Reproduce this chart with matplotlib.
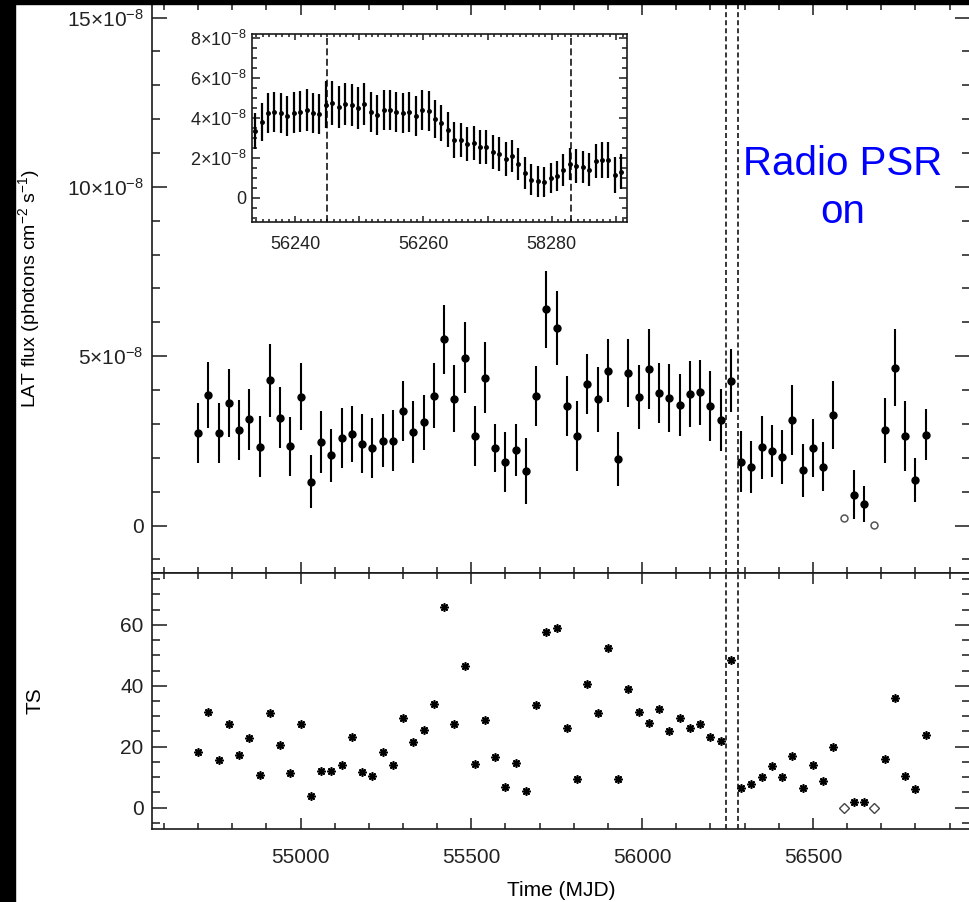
import matplotlib
matplotlib.use("Agg")
import matplotlib.pyplot as plt
from matplotlib.ticker import MultipleLocator, FixedLocator, FixedFormatter
from matplotlib.patches import Rectangle

plt.rcParams["font.family"] = ["Liberation Sans", "DejaVu Sans"]
plt.rcParams["mathtext.fontset"] = "custom"
plt.rcParams["mathtext.rm"] = "Liberation Sans"
plt.rcParams["mathtext.it"] = "Liberation Sans:italic"
plt.rcParams["mathtext.bf"] = "Liberation Sans:bold"
plt.rcParams["lines.scale_dashes"] = False

# 30-day bins (MJD), flux in units of 1e-8 photons cm^-2 s^-1
mjd = [54700, 54730, 54760, 54790, 54820, 54850, 54880, 54910, 54940, 54970,
       55000, 55030, 55060, 55090, 55120, 55150, 55180, 55210, 55240, 55270,
       55300, 55330, 55360, 55390, 55420, 55450, 55480, 55510, 55540, 55570,
       55600, 55630, 55660, 55690, 55720, 55750, 55780, 55810, 55840, 55870,
       55900, 55930, 55960, 55990, 56020, 56050, 56080, 56110, 56140, 56170,
       56200, 56230, 56260, 56290, 56320, 56350, 56380, 56410, 56440, 56470,
       56500, 56530, 56560, 56590, 56620, 56650, 56680, 56710, 56740, 56770,
       56800, 56830]
flux = [2.73, 3.86, 2.73, 3.63, 2.82, 3.14, 2.33, 4.29, 3.19, 2.34,
        3.81, 1.29, 2.46, 2.08, 2.59, 2.70, 2.42, 2.29, 2.51, 2.51,
        3.39, 2.76, 3.05, 3.83, 5.50, 3.75, 4.95, 2.65, 4.37, 2.29,
        1.87, 2.24, 1.62, 3.83, 6.38, 5.84, 3.54, 2.65, 4.17, 3.73,
        4.57, 1.97, 4.50, 3.79, 4.61, 3.91, 3.77, 3.56, 3.89, 3.94,
        3.53, 3.11, 4.28, 1.89, 1.72, 2.31, 2.19, 2.02, 3.11, 1.63,
        2.28, 1.74, 3.27, 0.22, 0.91, 0.64, 0.02, 2.81, 4.66, 2.65,
        1.35, 2.68]
flux_err = [0.88, 0.97, 0.88, 1.00, 0.88, 0.90, 0.90, 1.07, 0.91, 0.88,
            0.98, 0.78, 0.92, 0.78, 0.88, 0.82, 0.88, 0.88, 0.77, 0.89,
            0.88, 0.92, 0.82, 0.96, 1.01, 0.99, 1.05, 0.88, 1.06, 0.71,
            0.88, 0.77, 0.98, 0.89, 1.15, 1.09, 0.89, 1.04, 0.89, 0.96,
            0.93, 0.79, 1.01, 0.94, 1.18, 0.89, 1.00, 0.92, 0.97, 0.96,
            1.04, 0.92, 0.92, 0.91, 0.77, 0.94, 0.77, 0.79, 1.04, 0.79,
            0.86, 0.73, 1.00, 0.00, 0.73, 0.53, 0.00, 0.96, 1.13, 1.04,
            0.64, 0.75]
ts = [18.4, 31.3, 15.7, 27.3, 17.4, 23.0, 10.7, 31.0, 20.6, 11.3,
      27.3, 3.8, 12.0, 11.9, 14.1, 23.1, 11.7, 10.5, 18.3, 14.1,
      29.5, 21.6, 25.6, 34.1, 65.7, 27.4, 46.4, 14.3, 28.7, 16.7,
      6.8, 14.6, 5.6, 33.8, 57.5, 59.0, 26.0, 9.4, 40.6, 31.0,
      52.5, 9.4, 39.1, 31.3, 27.7, 32.5, 25.1, 29.5, 26.2, 27.5,
      23.2, 21.9, 48.4, 6.6, 7.7, 10.2, 13.6, 10.2, 17.0, 6.4,
      14.0, 8.8, 20.0, 0.0, 2.0, 1.8, 0.0, 16.1, 36.1, 10.5,
      6.2, 23.8]
ul_bins = [63, 66]          # low-TS bins drawn as open symbols
radio_on = [56245, 56280]   # dashed lines

# inset: 1-day bins around the transition
inset_mjd = [56233.8, 56234.8, 56235.8, 56236.8, 56237.8, 56238.8, 56239.8, 56240.8,
             56241.8, 56242.8, 56243.8, 56244.8, 56245.8, 56246.8, 56247.8, 56248.8,
             56249.8, 56250.8, 56251.8, 56252.8, 56253.8, 56254.8, 56255.8, 56256.8,
             56257.8, 56258.8, 56259.8, 56260.8, 56261.8, 56262.8, 56263.8, 56264.8,
             56265.8, 56266.8, 56267.8, 56268.8, 56269.8, 56270.8, 56271.8, 56272.8,
             56273.8, 56274.8, 56275.8, 56276.8, 56277.8, 56278.8, 56279.8, 56280.8,
             56281.8, 56282.8, 56283.8, 56284.8, 56285.8, 56286.8, 56287.8, 56288.8,
             56289.8, 56290.8]
inset_flux = [3.33, 3.80, 4.23, 4.30, 4.23, 4.12, 4.27, 4.32, 4.42, 4.23,
              4.22, 4.67, 4.73, 4.57, 4.68, 4.65, 4.50, 4.70, 4.32, 4.17,
              4.42, 4.42, 4.30, 4.23, 4.30, 4.12, 4.42, 4.33, 3.97, 3.75,
              3.42, 2.88, 2.88, 2.68, 2.73, 2.57, 2.55, 2.28, 2.22, 1.95,
              2.08, 1.68, 1.25, 0.92, 0.83, 0.82, 0.98, 1.08, 1.40, 1.72,
              1.62, 1.55, 1.42, 1.83, 1.88, 1.92, 1.15, 1.32]
inset_err = [0.90, 0.95, 1.00, 1.02, 1.00, 1.00, 1.02, 1.02, 1.05, 1.00,
             1.00, 1.18, 1.10, 1.05, 1.05, 1.05, 1.05, 1.05, 1.00, 1.00,
             1.00, 1.00, 0.98, 1.00, 1.00, 1.00, 1.00, 1.00, 0.95, 0.90,
             0.88, 0.90, 0.85, 0.85, 0.85, 0.85, 0.85, 0.85, 0.85, 0.85,
             0.80, 0.80, 0.78, 0.78, 0.78, 0.75, 0.75, 0.75, 0.78, 0.80,
             0.85, 0.82, 0.82, 0.85, 0.90, 0.90, 0.90, 0.88]
inset_lines = [56245, 56283]

W, H = 969, 902
fig = plt.figure(figsize=(W / 100, H / 100), dpi=100)


def px(x0, y0, x1, y1):
    return [x0 / W, 1 - y1 / H, (x1 - x0) / W, (y1 - y0) / H]


ax1 = fig.add_axes(px(152, 4, 970, 573))
ax2 = fig.add_axes(px(152, 573, 970, 829))
axi = fig.add_axes(px(252, 34, 627, 222))

ink = "#1a1a1a"
for ax in (ax1, ax2, axi):
    for s in ax.spines.values():
        s.set_linewidth(1.2)
        s.set_color(ink)
    ax.tick_params(which="both", direction="in", top=True, right=True,
                   width=1.1, color=ink, labelcolor="#222222")

for ax in (ax1, ax2):
    ax.tick_params(labelsize=15)
    ax.tick_params(axis="x", which="major", length=8, pad=14)
    ax.tick_params(axis="x", which="minor", length=4.5)
    ax.tick_params(axis="y", which="major", length=11, pad=6)
    ax.tick_params(axis="y", which="minor", length=6)
    ax.set_xlim(54565, 56960)
    ax.xaxis.set_major_locator(MultipleLocator(500))
    ax.xaxis.set_minor_locator(MultipleLocator(100))
    for x in radio_on:
        ax.axvline(x, color="black", lw=1.1, ls=(0, (3.6, 2.2)))

good = [i for i in range(len(mjd)) if i not in ul_bins]

# upper panel: flux
ax1.errorbar([mjd[i] for i in good], [flux[i] for i in good],
             yerr=[flux_err[i] for i in good], fmt="o", color="black",
             ms=5, elinewidth=1.5, capsize=0)
ax1.plot([mjd[i] for i in ul_bins], [flux[i] for i in ul_bins], "o",
         mfc="none", mec="#555555", ms=5, mew=1.1)
ax1.set_ylim(-1.4, 15.4)
ax1.yaxis.set_major_locator(FixedLocator([0, 5, 10, 15]))
ax1.yaxis.set_major_formatter(FixedFormatter(
    ["0", "5×10$^{-8}$", "10×10$^{-8}$", "15×10$^{-8}$"]))
ax1.yaxis.set_minor_locator(MultipleLocator(1))
ax1.tick_params(labelbottom=False)
ax1.set_ylabel("LAT flux (photons cm$^{-2}$ s$^{-1}$)", fontsize=14)
ax1.yaxis.set_label_coords(-0.1345, 0.5)

# lower panel: TS
ax2.plot([mjd[i] for i in good], [ts[i] for i in good], ls="none",
         marker=(8, 2, 0), ms=6, mew=1.2, color="black")
ax2.plot([mjd[i] for i in ul_bins], [ts[i] for i in ul_bins], ls="none",
         marker="D", ms=5, mfc="none", mec="#444444", mew=1.0)
ax2.set_ylim(-7, 77)
ax2.yaxis.set_major_locator(MultipleLocator(20))
ax2.yaxis.set_minor_locator(MultipleLocator(5))
ax2.set_ylabel("TS", fontsize=15)
ax2.yaxis.set_label_coords(-0.131, 0.5)
ax2.set_xlabel("Time (MJD)", fontsize=15, labelpad=10)

# inset
axi.set_facecolor("white")
axi.errorbar(inset_mjd, inset_flux, yerr=inset_err, fmt="o", color="black",
             ms=2.5, elinewidth=1.6, capsize=0)
for x in inset_lines:
    axi.axvline(x, color="black", lw=1.1, ls=(0, (5, 2.5)))
axi.set_xlim(56233.3, 56291.7)
axi.set_ylim(-1.2, 8.2)
axi.xaxis.set_major_locator(FixedLocator([56240, 56250, 56260, 56270, 56280, 56290]))
axi.xaxis.set_major_formatter(FixedFormatter(["56240", "", "56260", "", "58280", ""]))
axi.xaxis.set_minor_locator(MultipleLocator(1))
axi.yaxis.set_major_locator(FixedLocator([0, 2, 4, 6, 8]))
axi.yaxis.set_major_formatter(FixedFormatter(
    ["0", "2×10$^{-8}$", "4×10$^{-8}$", "6×10$^{-8}$", "8×10$^{-8}$"]))
axi.yaxis.set_minor_locator(MultipleLocator(0.5))
axi.tick_params(labelsize=13)
axi.tick_params(axis="x", which="major", length=4, pad=10)
axi.tick_params(axis="x", which="minor", length=2)
axi.tick_params(axis="y", which="major", length=6, pad=4)
axi.tick_params(axis="y", which="minor", length=3.5)

fig.text(843 / W, 1 - 188 / H, "Radio PSR\non", color="#0000ff", fontsize=29,
         ha="center", va="center", linespacing=1.35)

# black frame strips of the original screenshot
fig.add_artist(Rectangle((0, 0), 15 / W, 1, transform=fig.transFigure,
                         color="black", zorder=20))
fig.add_artist(Rectangle((0, 1 - 4 / H), 1, 4 / H, transform=fig.transFigure,
                         color="black", zorder=20))

fig.savefig("out.png", dpi=100)
